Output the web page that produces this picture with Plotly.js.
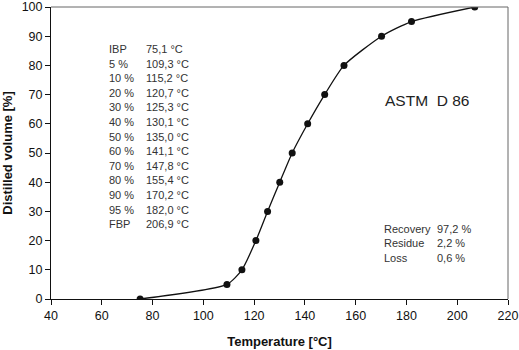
<!DOCTYPE html>
<html><head><meta charset="utf-8">
<script src="https://cdn.plot.ly/plotly-3.0.1.min.js"></script>
<style>body{margin:0;background:#fff}#c{width:519px;height:350px}</style>
</head><body><div id="c"></div>
<script>
const temperature = [75.1, 109.3, 115.2, 120.7, 125.3, 130.1, 135.0, 141.1, 147.8, 155.4, 170.2, 182.0, 206.9];
const volume = [0, 5, 10, 20, 30, 40, 50, 60, 70, 80, 90, 95, 100];
const tableLabels = ['IBP', '5 %', '10 %', '20 %', '30 %', '40 %', '50 %', '60 %', '70 %', '80 %', '90 %', '95 %', 'FBP'];
const tableValues = ['75,1 °C', '109,3 °C', '115,2 °C', '120,7 °C', '125,3 °C', '130,1 °C', '135,0 °C', '141,1 °C', '147,8 °C', '155,4 °C', '170,2 °C', '182,0 °C', '206,9 °C'];
const balanceLabels = ['Recovery', 'Residue', 'Loss'];
const balanceValues = ['97,2 %', '2,2 %', '0,6 %'];

const font = 'Liberation Sans, Arial, sans-serif';
const ann = [];
tableLabels.forEach((t, i) => {
  const y = 85.6 - i * 5;
  ann.push({x: 61.9, y: y, xref: 'x', yref: 'y', text: t, showarrow: false, xanchor: 'left', yanchor: 'middle', font: {family: font, size: 11, color: '#333'}});
  ann.push({x: 76.8, y: y, xref: 'x', yref: 'y', text: tableValues[i], showarrow: false, xanchor: 'left', yanchor: 'middle', font: {family: font, size: 11, color: '#333'}});
});
balanceLabels.forEach((t, i) => {
  const y = 24.1 - i * 5;
  ann.push({x: 170.2, y: y, xref: 'x', yref: 'y', text: t, showarrow: false, xanchor: 'left', yanchor: 'middle', font: {family: font, size: 11, color: '#333'}});
  ann.push({x: 191.3, y: y, xref: 'x', yref: 'y', text: balanceValues[i], showarrow: false, xanchor: 'left', yanchor: 'middle', font: {family: font, size: 11, color: '#333'}});
});
ann.push({x: 170.6, y: 68, xref: 'x', yref: 'y', text: 'ASTM  D 86', showarrow: false, xanchor: 'left', yanchor: 'middle', font: {family: font, size: 15.5, color: '#222'}});

const trace = {
  x: temperature, y: volume, mode: 'lines+markers', type: 'scatter',
  line: {color: '#111', width: 1.3, shape: 'spline', smoothing: 0.6},
  marker: {color: '#111', size: 7}
};
const layout = {
  width: 519, height: 350,
  margin: {l: 51, r: 11, t: 7, b: 51},
  paper_bgcolor: '#fff', plot_bgcolor: '#fff',
  showlegend: false,
  font: {family: font, color: '#111'},
  xaxis: {range: [40, 220], tickvals: [40,60,80,100,120,140,160,180,200,220], showgrid: false, zeroline: false,
    showline: true, linecolor: '#111', linewidth: 1, ticks: 'outside', ticklen: 5, tickcolor: '#111',
    ticklabeloverflow: 'allow',
    tickfont: {family: font, size: 12.5, color: '#111'},
    title: {text: '<b>Temperature [°C]</b>', font: {family: font, size: 13, color: '#111'}, standoff: 14}},
  yaxis: {range: [0, 100], tickvals: [0,10,20,30,40,50,60,70,80,90,100], showgrid: false, zeroline: false,
    showline: true, linecolor: '#111', linewidth: 1, ticks: 'outside', ticklen: 5, tickcolor: '#111',
    ticklabeloverflow: 'allow',
    tickfont: {family: font, size: 12.5, color: '#111'},
    title: {text: '<b>Distilled volume [%]</b>', font: {family: font, size: 13, color: '#111'}, standoff: 7}},
  shapes: [
    {type: 'line', xref: 'paper', yref: 'paper', x0: 0, x1: 1, y0: 1, y1: 1, line: {color: '#666', width: 1}},
    {type: 'line', xref: 'paper', yref: 'paper', x0: 1, x1: 1, y0: 0, y1: 1, line: {color: '#666', width: 1}}
  ],
  annotations: ann
};
Plotly.newPlot('c', [trace], layout, {staticPlot: true});
</script></body></html>
